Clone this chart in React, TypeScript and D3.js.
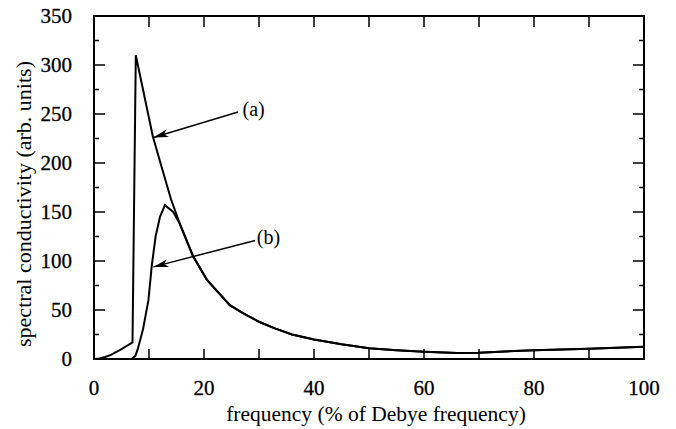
import React, { useEffect, useRef } from "react";
import * as d3 from "d3";

// curve (a): frequency (% of Debye) and spectral conductivity
const freqA = [0, 1, 2, 3, 4, 5, 6, 7, 7.6, 10.7, 12.6, 14, 15.6, 18, 20.5, 24.7, 27, 30, 33, 36, 40, 45, 50, 55, 60, 66, 70, 80, 90, 100];
const valA = [0, 0.5, 2, 4, 7, 10, 13.5, 17, 310, 227, 190, 163, 138, 105, 81, 55, 47, 38, 31, 25, 20, 15, 11, 9, 7.5, 6, 6.5, 9, 10.5, 12.5];

// curve (b)
const freqB = [0, 6.8, 7.5, 8, 8.9, 9.9, 10.5, 11.2, 12, 12.9, 14.4, 15.6, 18, 20.5, 24.7, 27, 30, 33, 36, 40, 45, 50, 55, 60, 66, 70, 80, 90, 100];
const valB = [0, 0, 3, 11, 30, 60, 95, 125, 145, 157, 150, 138, 105, 81, 55, 47, 38, 31, 25, 20, 15, 11, 9, 7.5, 6, 6.5, 9, 10.5, 12.5];

const xTickLabels = [0, 20, 40, 60, 80, 100];
const yTickLabels = [0, 50, 100, 150, 200, 250, 300, 350];

// annotations: label, arrow tail (data), arrow tip (data)
const notes = [
  { label: "(a)", tail: [26.2, 252], tip: [10.8, 226], text: [27, 255] },
  { label: "(b)", tail: [29.3, 121], tip: [10.8, 94], text: [29.6, 124] },
];

const FONT = "'Liberation Serif', 'Times New Roman', serif";

const drawChart = (node: SVGSVGElement) => {
  const margin = { top: 16, right: 32, bottom: 70, left: 94 },
    width = 676 - margin.left - margin.right,
    height = 429 - margin.top - margin.bottom;

  const root = d3.select(node);
  root.selectAll("*").remove();

  const svg = root
    .append("g")
    .attr("transform", "translate(" + margin.left + "," + margin.top + ")");

  const x = d3.scaleLinear().domain([0, 100]).range([0, width]);
  const y = d3.scaleLinear().domain([0, 350]).range([height, 0]);

  // x ticks (bottom and top, inward)
  const xt = d3.range(10, 100, 10);
  svg
    .selectAll(".xtb")
    .data(xt)
    .enter()
    .append("line")
    .attr("x1", d => x(d))
    .attr("x2", d => x(d))
    .attr("y1", height)
    .attr("y2", height - 10)
    .attr("stroke", "#000")
    .attr("stroke-width", 1.5);
  svg
    .selectAll(".xtt")
    .data(xt)
    .enter()
    .append("line")
    .attr("x1", d => x(d))
    .attr("x2", d => x(d))
    .attr("y1", 0)
    .attr("y2", 11)
    .attr("stroke", "#000")
    .attr("stroke-width", 1.5);

  // y ticks (left and right), major every 50, minor every 25
  const yt = d3.range(25, 350, 25);
  const len = (d: number) => (d % 50 === 0 ? 11 : 5);
  svg
    .selectAll(".ytl")
    .data(yt)
    .enter()
    .append("line")
    .attr("x1", 0)
    .attr("x2", d => len(d))
    .attr("y1", d => y(d))
    .attr("y2", d => y(d))
    .attr("stroke", "#000")
    .attr("stroke-width", 1.5);
  svg
    .selectAll(".ytr")
    .data(yt)
    .enter()
    .append("line")
    .attr("x1", width)
    .attr("x2", d => width - len(d))
    .attr("y1", d => y(d))
    .attr("y2", d => y(d))
    .attr("stroke", "#000")
    .attr("stroke-width", 1.5);

  // frame
  svg
    .append("rect")
    .attr("width", width)
    .attr("height", height)
    .attr("fill", "none")
    .attr("stroke", "#000")
    .attr("stroke-width", 2);

  // tick labels
  svg
    .selectAll(".xl")
    .data(xTickLabels)
    .enter()
    .append("text")
    .attr("x", d => x(d))
    .attr("y", height + 36)
    .attr("text-anchor", "middle")
    .style("font-family", FONT)
    .style("font-size", "21px")
    .style("stroke", "#000")
    .style("stroke-width", 0.3)
    .text(d => d);
  svg
    .selectAll(".yl")
    .data(yTickLabels)
    .enter()
    .append("text")
    .attr("x", -22)
    .attr("y", d => y(d))
    .attr("dy", "0.35em")
    .attr("text-anchor", "end")
    .style("font-family", FONT)
    .style("font-size", "21px")
    .style("stroke", "#000")
    .style("stroke-width", 0.3)
    .text(d => d);

  // axis titles
  svg
    .append("text")
    .attr("x", 376 - margin.left)
    .attr("y", height + 62)
    .attr("text-anchor", "middle")
    .style("font-family", FONT)
    .style("font-size", "21.5px")
    .text("frequency (% of Debye frequency)");
  svg
    .append("text")
    .attr("transform", "translate(" + (31 - margin.left) + "," + (204 - margin.top) + ") rotate(-90)")
    .attr("text-anchor", "middle")
    .style("font-family", FONT)
    .style("font-size", "22px")
    .text("spectral conductivity (arb. units)");

  // curves
  const path = (fx: number[], fy: number[]) =>
    d3
      .line<number>()
      .x(i => x(fx[i]))
      .y(i => y(fy[i]))
      .curve(d3.curveLinear)(d3.range(fx.length));

  svg
    .append("path")
    .attr("d", path(freqB, valB))
    .attr("fill", "none")
    .attr("stroke", "#000")
    .attr("stroke-width", 2);
  svg
    .append("path")
    .attr("d", path(freqA, valA))
    .attr("fill", "none")
    .attr("stroke", "#000")
    .attr("stroke-width", 2);

  // arrows
  const defs = root.append("defs");
  defs
    .append("marker")
    .attr("id", "head")
    .attr("viewBox", "0 0 15 8")
    .attr("refX", 15)
    .attr("refY", 4)
    .attr("markerWidth", 15)
    .attr("markerHeight", 8)
    .attr("markerUnits", "userSpaceOnUse")
    .attr("orient", "auto")
    .append("path")
    .attr("d", "M0,0 L15,4 L0,8 L4,4 Z")
    .attr("fill", "#000");

  notes.forEach(n => {
    svg
      .append("line")
      .attr("x1", x(n.tail[0]))
      .attr("y1", y(n.tail[1]))
      .attr("x2", x(n.tip[0]))
      .attr("y2", y(n.tip[1]))
      .attr("stroke", "#000")
      .attr("stroke-width", 1.5)
      .attr("marker-end", "url(#head)");
    svg
      .append("text")
      .attr("x", x(n.text[0]))
      .attr("y", y(n.text[1]))
      .attr("dy", "0.35em")
      .style("font-family", FONT)
      .style("font-size", "20px")
      .text(n.label);
  });
};

export default function App() {
  const ref = useRef<SVGSVGElement>(null);

  // draw once the svg is mounted
  useEffect(() => {
    if (ref.current) drawChart(ref.current);
  }, []);

  return (
    <svg
      ref={ref}
      width={676}
      height={429}
      style={{ position: "absolute", left: 0, top: 0, background: "#fff" }}
    />
  );
}
